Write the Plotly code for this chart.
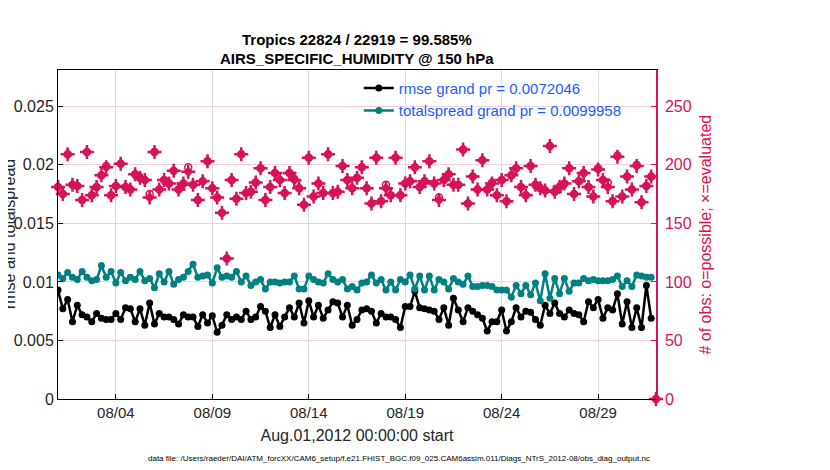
import pandas as pd
import plotly.graph_objects as go

# 6-hourly bins starting Aug 1 2012 00Z
start = "2012-08-01 00:00"
n_bins = 124

rmse = [
    0.0093, 0.0077, 0.0085, 0.0066, 0.0080, 0.0072, 0.0070, 0.0066, 0.0073, 0.0069,
    0.0068, 0.0068, 0.0073, 0.0068, 0.0078, 0.0077, 0.0066, 0.0077, 0.0063, 0.0082,
    0.0064, 0.0073, 0.0070, 0.0070, 0.0068, 0.0064, 0.0072, 0.0070, 0.0070, 0.0062,
    0.0072, 0.0065, 0.0071, 0.0057, 0.0063, 0.0072, 0.0068, 0.0070, 0.0068, 0.0075,
    0.0068, 0.0070, 0.0079, 0.0075, 0.0061, 0.0072, 0.0062, 0.0070, 0.0078, 0.0070,
    0.0082, 0.0065, 0.0084, 0.0070, 0.0080, 0.0069, 0.0076, 0.0083, 0.0082, 0.0070,
    0.0080, 0.0063, 0.0068, 0.0076, 0.0077, 0.0075, 0.0065, 0.0073, 0.0070, 0.0070,
    0.0068, 0.0061, 0.0079, 0.0079, 0.0092, 0.0078, 0.0077, 0.0076, 0.0075, 0.0068,
    0.0078, 0.0063, 0.0086, 0.0076, 0.0066, 0.0078, 0.0075, 0.0072, 0.0069, 0.0058,
    0.0066, 0.0066, 0.0076, 0.0058, 0.0066, 0.0078, 0.0070, 0.0075, 0.0074, 0.0068,
    0.0063, 0.0080, 0.0073, 0.0082, 0.0073, 0.0070, 0.0076, 0.0073, 0.0072, 0.0066,
    0.0083, 0.0078, 0.0085, 0.0069, 0.0078, 0.0076, 0.0090, 0.0064, 0.0083, 0.0061,
    0.0078, 0.0061, 0.0097, 0.0069,
]

totalspread = [
    0.0106, 0.0103, 0.0108, 0.0104, 0.0102, 0.0109, 0.0104, 0.0101, 0.0102, 0.0114,
    0.0104, 0.0109, 0.0099, 0.0108, 0.0101, 0.0104, 0.0102, 0.0109, 0.0101, 0.0103,
    0.0095, 0.0107, 0.0100, 0.0109, 0.0098, 0.0102, 0.0104, 0.0109, 0.0115, 0.0104,
    0.0105, 0.0106, 0.0099, 0.0112, 0.0104, 0.0105, 0.0104, 0.0109, 0.0100, 0.0105,
    0.0097, 0.0100, 0.0102, 0.0094, 0.0100, 0.0100, 0.0099, 0.0100, 0.0100, 0.0105,
    0.0094, 0.0094, 0.0105, 0.0102, 0.0100, 0.0099, 0.0107, 0.0102, 0.0100, 0.0102,
    0.0094, 0.0096, 0.0093, 0.0099, 0.0100, 0.0106, 0.0099, 0.0102, 0.0093, 0.0100,
    0.0093, 0.0102, 0.0100, 0.0106, 0.0094, 0.0105, 0.0093, 0.0105, 0.0093, 0.0102,
    0.0100, 0.0094, 0.0103, 0.0100, 0.0098, 0.0105, 0.0096, 0.0096, 0.0097, 0.0097,
    0.0096, 0.0093, 0.0093, 0.0093, 0.0087, 0.0097, 0.0090, 0.0097, 0.0089, 0.0099,
    0.0084, 0.0107, 0.0086, 0.0103, 0.0090, 0.0103, 0.0092, 0.0099, 0.0099, 0.0103,
    0.0101, 0.0102, 0.0101, 0.0101, 0.0101, 0.0102, 0.0105, 0.0096, 0.0101, 0.0096,
    0.0106, 0.0105, 0.0104, 0.0104,
]

# obs counts, one extra (empty) bin at Sep 1 00Z
nposs = [
    181, 175, 209, 183, 182, 170, 211, 174, 181, 191,
    199, 174, 182, 201, 181, 179, 192, 189, 187, 175,
    211, 179, 187, 184, 195, 179, 184, 198, 183, 170,
    186, 203, 180, 172, 159, 120, 187, 171, 209, 176,
    177, 185, 197, 170, 181, 193, 187, 176, 193, 188,
    180, 166, 206, 173, 184, 176, 209, 176, 177, 199,
    187, 180, 189, 198, 180, 167, 206, 169, 183, 174,
    206, 174, 184, 186, 198, 181, 186, 203, 184, 172,
    187, 192, 183, 183, 213, 167, 190, 179, 204, 179,
    185, 174, 187, 169, 191, 197, 181, 174, 199, 183,
    180, 178, 216, 177, 181, 184, 197, 175, 186, 193,
    181, 173, 197, 187, 185, 169, 208, 173, 190, 179,
    200, 168, 182, 190, 0,
]

nused = [
    181, 175, 209, 183, 182, 170, 211, 174, 181, 191,
    198, 174, 182, 201, 181, 179, 192, 189, 187, 172,
    211, 179, 187, 184, 195, 179, 184, 194, 183, 170,
    186, 203, 180, 172, 159, 120, 187, 171, 209, 176,
    177, 185, 197, 170, 181, 193, 187, 176, 193, 187,
    180, 166, 206, 173, 184, 176, 209, 176, 177, 199,
    187, 180, 189, 198, 180, 167, 206, 169, 180, 174,
    206, 174, 184, 186, 198, 181, 186, 203, 184, 170,
    187, 192, 183, 183, 213, 167, 190, 179, 204, 179,
    184, 174, 187, 169, 191, 197, 181, 174, 199, 183,
    180, 178, 216, 177, 181, 184, 197, 175, 186, 193,
    181, 173, 196, 187, 181, 169, 207, 173, 190, 179,
    199, 168, 182, 190, 0,
]

date_ticks = ["2012-08-04", "2012-08-09", "2012-08-14", "2012-08-19", "2012-08-24", "2012-08-29"]
date_labels = ["08/04", "08/09", "08/14", "08/19", "08/24", "08/29"]
left_ticks = [0, 0.005, 0.01, 0.015, 0.02, 0.025]
left_labels = ["0", "0.005", "0.01", "0.015", "0.02", "0.025"]
right_ticks = [0, 50, 100, 150, 200, 250]

rmse_grand = 0.0072046
spread_grand = 0.0099958

times = pd.date_range(start, periods=n_bins, freq="6h")
count_times = pd.date_range(start, periods=n_bins + 1, freq="6h")

FONT = "Liberation Sans, Arial, Helvetica, sans-serif"
RED = "#d6125a"
TEAL = "#008080"

fig = go.Figure()

fig.add_trace(go.Scatter(
    x=times, y=rmse, mode="lines+markers",
    name="rmse grand pr = %.7f" % rmse_grand,
    line=dict(color="black", width=2.5),
    marker=dict(color="black", size=7),
))
fig.add_trace(go.Scatter(
    x=times, y=totalspread, mode="lines+markers",
    name="totalspread grand pr = %.7f" % spread_grand,
    line=dict(color=TEAL, width=2.5),
    marker=dict(color=TEAL, size=7),
))
fig.add_trace(go.Scatter(
    x=count_times, y=nposs, mode="markers", yaxis="y2", showlegend=False,
    marker=dict(symbol="circle-open", color=RED, size=7, line=dict(width=1.5)),
    cliponaxis=False,
))
# evaluated: thick cross over a filled diamond, like the matlab marker blob
fig.add_trace(go.Scatter(
    x=count_times, y=nused, mode="markers", yaxis="y2", showlegend=False,
    marker=dict(symbol="diamond", color=RED, size=8, line=dict(width=0)),
    cliponaxis=False,
))
fig.add_trace(go.Scatter(
    x=count_times, y=nused, mode="markers", yaxis="y2", showlegend=False,
    marker=dict(symbol="cross-thin-open", color=RED, size=10, line=dict(width=2.5, color=RED)),
    cliponaxis=False,
))

# the page body has an 8px margin, so the margins here are shifted by that
fig.update_layout(
    width=830, height=470,
    margin=dict(l=50, r=182, t=62, b=79),
    paper_bgcolor="white", plot_bgcolor="white",
    font=dict(family=FONT, size=16, color="#262626"),
    xaxis=dict(
        type="date", range=[start, "2012-09-01 00:00"],
        tickvals=date_ticks, ticktext=date_labels,
        showgrid=True, gridcolor="#dcdcdc", gridwidth=1,
        showline=True, linecolor="black", linewidth=1, mirror=True,
        ticks="inside", ticklen=5, tickcolor="black",
        tickfont=dict(size=15), zeroline=False, automargin=False,
        title=dict(text="Aug.01,2012 00:00:00 start", font=dict(size=16), standoff=9),
    ),
    yaxis=dict(
        range=[0, 0.0281], tickvals=left_ticks, ticktext=left_labels,
        showgrid=False, zeroline=False, automargin=False,
        showline=True, linecolor="black", linewidth=1,
        ticks="inside", ticklen=5, tickcolor="black",
        tickfont=dict(size=16),
    ),
    yaxis2=dict(
        overlaying="y", side="right", range=[0, 281], tickvals=right_ticks,
        showgrid=True, gridcolor="#f6cfdd", gridwidth=1, zeroline=False,
        showline=True, linecolor=RED, linewidth=1.5, automargin=False,
        ticks="inside", ticklen=5, tickcolor=RED, ticklabelstandoff=4,
        tickfont=dict(size=16, color=RED),
    ),
    legend=dict(
        x=0.503, y=0.995, xanchor="left", yanchor="top",
        bgcolor="rgba(0,0,0,0)", font=dict(size=15, color="#1a5cff"),
        itemwidth=30, tracegroupgap=0,
    ),
    showlegend=True,
)

fig.add_annotation(
    text="<b>Tropics 22824 / 22919 = 99.585%</b>", xref="paper", yref="paper",
    x=0.5, y=1.094, xanchor="center", yanchor="middle", showarrow=False,
    font=dict(size=15, color="black"),
)
fig.add_annotation(
    text="<b>AIRS_SPECIFIC_HUMIDITY @ 150 hPa</b>", xref="paper", yref="paper",
    x=0.5, y=1.036, xanchor="center", yanchor="middle", showarrow=False,
    font=dict(size=15, color="black"),
)
fig.add_annotation(
    text="rmse and totalspread", textangle=-90, xref="paper", yref="paper",
    x=-0.081, y=0.5, xanchor="center", yanchor="middle", showarrow=False,
    font=dict(size=16, color="#262626"),
)
fig.add_annotation(
    text="# of obs: o=possible; \u00d7=evaluated", textangle=-90, xref="paper", yref="paper",
    x=1.082, y=0.5, xanchor="center", yanchor="middle", showarrow=False,
    font=dict(size=16, color=RED),
)
fig.add_annotation(
    text="data file: /Users/raeder/DAI/ATM_forcXX/CAM6_setup/f.e21.FHIST_BGC.f09_025.CAM6assim.011/Diags_NTrS_2012-08/obs_diag_output.nc",
    xref="paper", yref="paper", x=0.57, y=-0.18, xanchor="center", yanchor="middle",
    showarrow=False, font=dict(size=8, color="black"),
)

fig.write_html("out.html")
